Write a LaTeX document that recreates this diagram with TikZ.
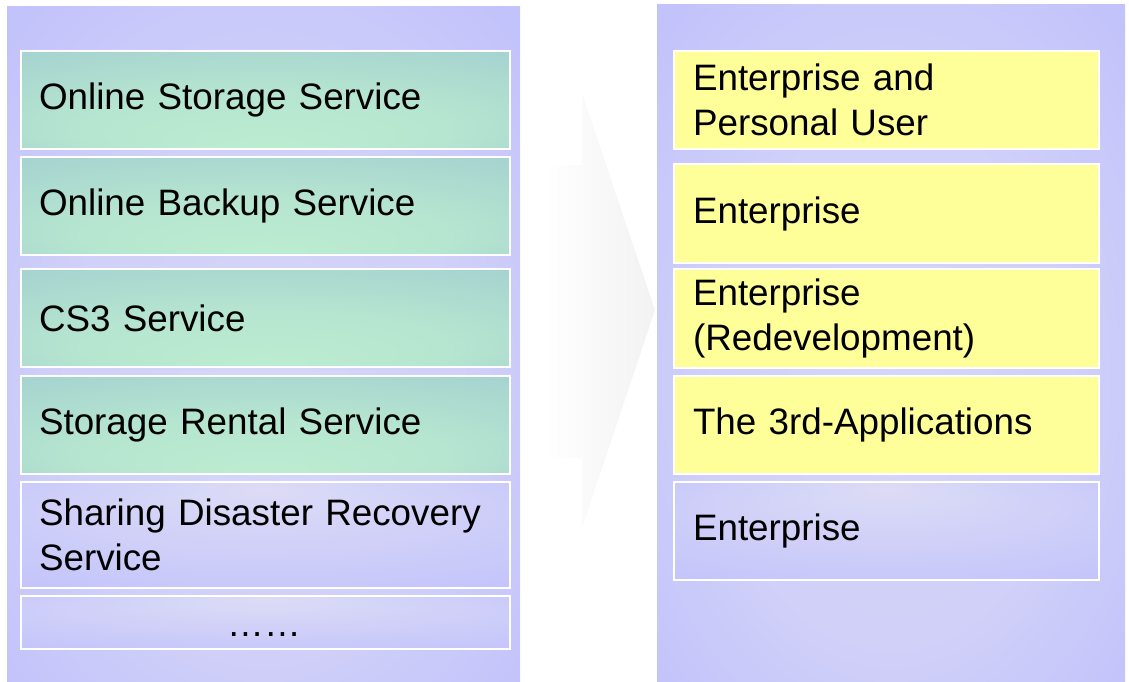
\documentclass[tikz,border=0pt]{standalone}
\usepackage{fontspec}
\setmainfont{Liberation Sans}
\definecolor{lav}{HTML}{C0C0FC}
\definecolor{lavlight}{HTML}{DCDCF6}
\definecolor{tealc}{HTML}{A6D4D0}
\definecolor{greenc}{HTML}{BCECD0}
\definecolor{yel}{HTML}{FFFF99}
\definecolor{arrgray}{HTML}{F2F2F2}
\pgfdeclareradialshading{panelglow}{\pgfpoint{0bp}{-5bp}}{color(0bp)=(lavlight!80!lav); color(20bp)=(lavlight!55!lav); color(38bp)=(lav); color(50bp)=(lav)}
\pgfdeclareradialshading{boxglow}{\pgfpoint{0bp}{22bp}}{color(0bp)=(lavlight); color(25bp)=(lavlight!45!lav); color(45bp)=(lav); color(50bp)=(lav)}
\pgfdeclareradialshading{tealglow}{\pgfpoint{0bp}{-25bp}}{color(0bp)=(greenc); color(18bp)=(greenc!75!tealc); color(38bp)=(tealc); color(50bp)=(tealc)}
\begin{document}
\begin{tikzpicture}[x=1pt,y=-1pt,
  every node/.style={font=\fontsize{36.8}{45}\selectfont, text=black},
  panel/.style={shading=panelglow, draw=none},
  lbox/.style={draw=white, line width=2pt, anchor=north west, align=left,
     inner xsep=18pt, inner ysep=0pt, text width=453pt, minimum height=98pt},
  rbox/.style={draw=white, line width=2pt, anchor=north west, align=left,
     inner xsep=19pt, inner ysep=0pt, text width=387pt, minimum height=98pt},
  tealbox/.style={lbox, shading=tealglow},
  yelbox/.style={rbox, fill=yel},
  lavbox/.style={shading=boxglow}
]
\useasboundingbox (0,0) rectangle (1129,682);
% panels
\path[panel] (7,7) rectangle (520,682);
\path[panel] (657,5) rectangle (1125,682);
% arrow
\path[left color=white, right color=arrgray, shading angle=90]
  (545,165) -- (582,165) -- (582,93) -- (655,310) -- (582,528) -- (582,458) -- (545,458) -- cycle;
% left boxes
\node[tealbox] (l1) at (20,50) {Online Storage Service};
\node[tealbox] (l2) at (20,156) {Online Backup Service};
\node[tealbox] (l3) at (20,268) {CS3 Service};
\node[tealbox] (l4) at (20,375) {Storage Rental Service};
\node[lbox, lavbox, minimum height=106pt] (l5) at (20,481) {\hbox{Sharing Disaster Recovery}\\Service};
\node[lbox, lavbox, minimum height=53pt] (l6) at (20,595) {};
\node[anchor=base] (dots) at (264,636) {……};
% right boxes
\node[yelbox] (r1) at (673,50) {Enterprise and\\Personal User};
\node[yelbox, minimum height=99pt] (r2) at (673,163) {Enterprise};
\node[yelbox, minimum height=99pt] (r3) at (673,268) {Enterprise\\(Redevelopment)};
\node[yelbox] (r4) at (673,375) {The 3rd-Applications};
\node[rbox, lavbox] (r5) at (673,481) {Enterprise};
\end{tikzpicture}
\end{document}
